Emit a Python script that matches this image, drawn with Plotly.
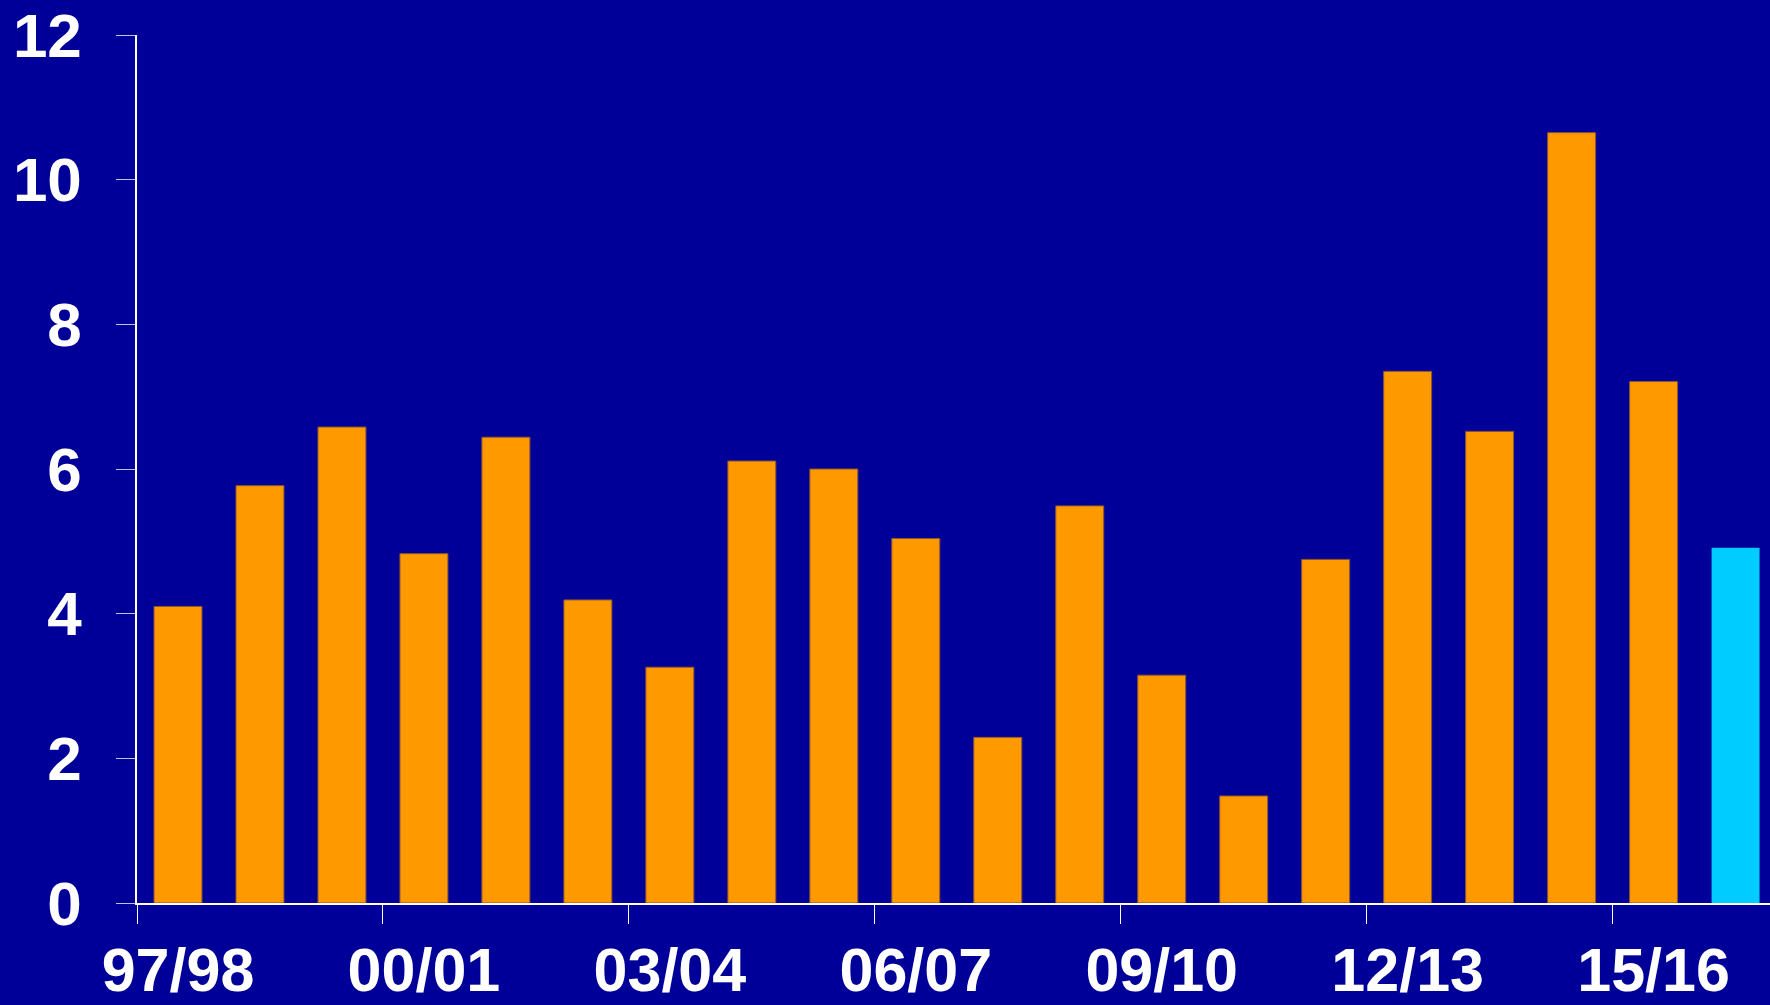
import plotly.graph_objects as go

seasons = ["97/98", "98/99", "99/00", "00/01", "01/02", "02/03", "03/04", "04/05",
           "05/06", "06/07", "07/08", "08/09", "09/10", "10/11", "11/12", "12/13",
           "13/14", "14/15", "15/16", "16/17"]
values = [4.10, 5.77, 6.58, 4.83, 6.44, 4.19, 3.26, 6.11, 6.00, 5.04,
          2.29, 5.49, 3.15, 1.48, 4.75, 7.35, 6.52, 10.65, 7.21, 4.91]
y_ticks = [0, 2, 4, 6, 8, 10, 12]
label_step = 3

BG = "#000099"
ORANGE = "#FF9900"
CYAN = "#00CCFF"

idx = list(range(len(seasons)))
colors = [ORANGE] * (len(seasons) - 1) + [CYAN]
line_w = [1] * (len(seasons) - 1) + [0]

label_idx = idx[::label_step]
label_text = [seasons[i] for i in label_idx]
boundary_ticks = [i - 0.5 for i in idx[::label_step]]

font_family = "Liberation Sans, Arial, sans-serif"

fig = go.Figure(go.Bar(
    x=idx, y=values, width=0.585,
    marker=dict(color=colors, line=dict(color="#8a5530", width=line_w)),
    hovertext=seasons,
))

fig.update_layout(
    width=1770, height=1005,
    paper_bgcolor=BG, plot_bgcolor=BG,
    margin=dict(l=137, r=0, t=35, b=102),
    showlegend=False,
    font=dict(family=font_family, color="white", size=62, weight="bold"),
)
fig.update_xaxes(
    range=[-0.5, 19.42], showgrid=False, zeroline=False, automargin=False,
    showline=True, linecolor="white", linewidth=1.5,
    tickmode="array", tickvals=label_idx, ticktext=label_text,
    ticks="", ticklabelstandoff=13,
    tickfont=dict(family=font_family, size=61, color="white", weight="bold"),
    minor=dict(tickmode="array", tickvals=boundary_ticks, ticks="outside",
               ticklen=19, tickcolor="white", tickwidth=1, showgrid=False),
)
fig.update_yaxes(
    range=[0, 12], showgrid=False, zeroline=False, automargin=False,
    showline=True, linecolor="white", linewidth=1.5,
    tickmode="array", tickvals=y_ticks, ticktext=[str(v) for v in y_ticks],
    ticks="outside", ticklen=19, tickcolor="#c0c0ee", tickwidth=1,
    ticklabelstandoff=22,
    tickfont=dict(family=font_family, size=62, color="white", weight="bold"),
)

fig.write_html(
    "out.html",
    config={"displayModeBar": False},
    post_script="document.body.style.margin='0';document.body.style.overflow='hidden';"
                "document.body.style.background='#000099';",
)
